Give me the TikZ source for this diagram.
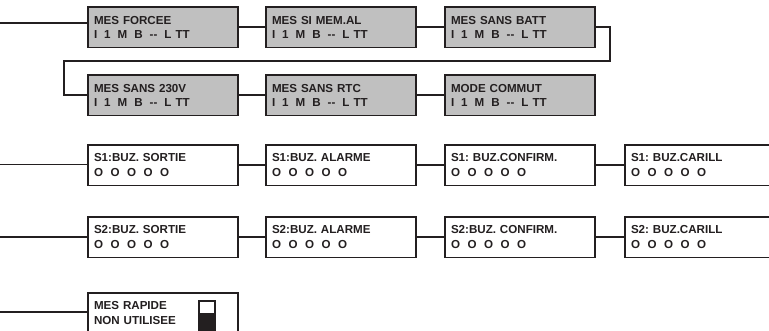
\documentclass[tikz,border=0pt]{standalone}
\usepackage{fontspec}
\setmainfont{Liberation Sans}
\frenchspacing
\definecolor{boxgray}{HTML}{C0C0C0}
\definecolor{ink}{HTML}{231F20}
\newcommand\gapA{\hspace{7pt}}
\newcommand\gapB{\hspace{4pt}}
\newcommand\gapO{\hspace{7.5pt}}
\newcommand\codeline{I\gapA 1\gapA M\gapA B\gapA -{}-\gapA L\gapB TT}
\newcommand\ringline{O\gapO O\gapO O\gapO O\gapO O}
\begin{document}
\begin{tikzpicture}[x=1pt,y=-1pt,
  menubox/.style={draw=ink, line width=1.8pt, minimum width=150pt, minimum height=40.5pt,
    inner xsep=6pt, inner ysep=2pt, outer sep=0pt, text width=138pt, align=left,
    font=\fontsize{11.6}{14.5}\selectfont\bfseries\frenchspacing, text=ink, anchor=north west},
  graybox/.style={menubox, fill=boxgray},
  whitebox/.style={menubox, fill=white},
  wire/.style={draw=ink, line width=1.6pt}]
\useasboundingbox (0,0) rectangle (769,330);
\clip (0,0) rectangle (769,330);

% row 1
\node[graybox] (b11) at (88,7)  {MES FORCEE\\\codeline};
\node[graybox] (b12) at (266,7) {MES SI MEM.AL\\\codeline};
\node[graybox] (b13) at (445,7) {MES SANS BATT\\\codeline};
% row 2
\node[graybox] (b21) at (88,75)  {MES SANS 230V\\\codeline};
\node[graybox] (b22) at (266,75) {MES SANS RTC\\\codeline};
\node[graybox] (b23) at (445,75) {MODE COMMUT\\\codeline};
% row 3
\node[whitebox] (c1) at (88,145)  {S1:BUZ. SORTIE\\\ringline};
\node[whitebox] (c2) at (266,145) {S1:BUZ. ALARME\\\ringline};
\node[whitebox] (c3) at (445,145) {S1: BUZ.CONFIRM.\\\ringline};
\node[whitebox] (c4) at (625,145) {S1: BUZ.CARILL\\\ringline};
% row 4
\node[whitebox] (d1) at (88,217)  {S2:BUZ. SORTIE\\\ringline};
\node[whitebox] (d2) at (266,217) {S2:BUZ. ALARME\\\ringline};
\node[whitebox] (d3) at (445,217) {S2:BUZ. CONFIRM.\\\ringline};
\node[whitebox] (d4) at (625,217) {S2: BUZ.CARILL\\\ringline};
% row 5
\node[whitebox] (e1) at (88,293) {MES RAPIDE\\NON UTILISEE};

% switch icon
\draw[draw=ink, line width=1.2pt, fill=white] (199,301) rectangle (215,313.5);
\fill[ink] (198.4,313.5) rectangle (215.6,333);

% incoming lines
\coordinate (in1) at (0,23);
\coordinate (in3) at (0,164.5);
\coordinate (in4) at (0,236.8);
\coordinate (in5) at (0,312);
\draw[wire] (in1) -- (in1 -| b11.west);
\draw[wire] (in3) -- (in3 -| c1.west);
\draw[wire] (in4) -- (in4 -| d1.west);
\draw[wire] (in5) -- (in5 -| e1.west);

% row links
\draw[wire] (b11.east) -- (b12.west);
\draw[wire] (b12.east) -- (b13.west);
\draw[wire] (b21.east) -- (b22.west);
\draw[wire] (b22.east) -- (b23.west);
\draw[wire] (c1.east) -- (c2.west);
\draw[wire] (c2.east) -- (c3.west);
\draw[wire] (c3.east) -- (c4.west);
\draw[wire] (d1.east) -- (d2.west);
\draw[wire] (d2.east) -- (d3.west);
\draw[wire] (d3.east) -- (d4.west);

% loop from row 1 to row 2
\coordinate (lp1) at (610,61);
\coordinate (lp2) at (64,61);
\draw[wire, line join=miter] (b13.east) -| (lp1) -- (lp2) |- (b21.west);
\end{tikzpicture}
\end{document}
